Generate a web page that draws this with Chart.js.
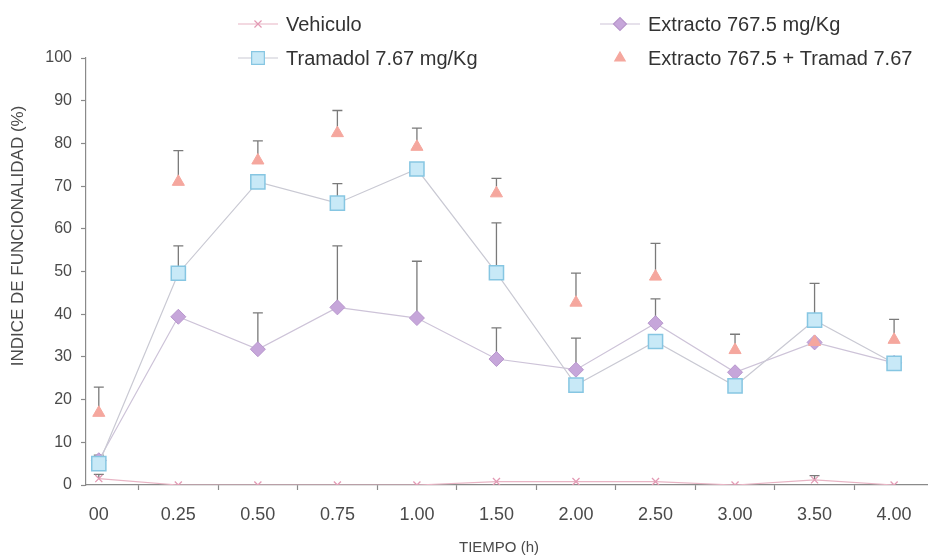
<!DOCTYPE html>
<html>
<head>
<meta charset="utf-8">
<script src="https://cdn.jsdelivr.net/npm/chart.js@4/dist/chart.umd.min.js"></script>
<style>
  html, body { margin: 0; padding: 0; background: #ffffff; }
  #wrap { width: 939px; height: 557px; position: relative; }
</style>
</head>
<body>
<div id="wrap"><canvas id="c"></canvas></div>
<script>
// Time points (h)
const categories = ['00', '0.25', '0.50', '0.75', '1.00', '1.50', '2.00', '2.50', '3.00', '3.50', '4.00'];

// Mean functionality index (%) per group
const vehiculo  = [1.5, 0, 0, 0, 0, 0.8, 0.8, 0.8, 0, 1.2, 0];
const tramadol  = [5, 49.6, 71, 66, 74, 49.7, 23.4, 33.6, 23.2, 38.6, 28.5];
const extracto  = [5.8, 39.4, 31.8, 41.6, 39.1, 29.5, 27, 37.9, 26.4, 33.4, 28.6];
const combinado = [16.9, 71, 76, 82.4, 79.2, 68.3, 42.7, 48.8, 31.6, 33.5, 34];

// Upper error (SEM) per group
const vehiculoErr  = [1, 0, 0, 0, 0, 0, 0, 0, 0, 1, 0];
const tramadolErr  = [2, 6.4, 0, 4.6, 0, 11.7, 0, 0, 0, 8.6, 0];
const extractoErr  = [0, 0, 8.5, 14.4, 13.3, 7.3, 7.4, 5.7, 0, 0, 0];
const combinadoErr = [6, 7.3, 4.6, 5.3, 4.4, 3.5, 6.9, 7.8, 3.7, 0, 4.8];

// Y axis ticks
const yTicks = [0, 10, 20, 30, 40, 50, 60, 70, 80, 90, 100];

const xs = categories.map((_, i) => i);
const pts = arr => arr.map((v, i) => ({ x: xs[i], y: v }));

const AXIS = '#8a8a8a';
const FONT = "'Liberation Sans', Arial, sans-serif";

// Upward error bars with caps
const errorBars = {
  id: 'errorBars',
  beforeDatasetsDraw(chart) {
    const { ctx } = chart;
    const y = chart.scales.y;
    ctx.save();
    ctx.strokeStyle = '#7a7a7a';
    ctx.lineWidth = 1.3;
    chart.data.datasets.forEach((ds, di) => {
      if (!ds.errUp) return;
      const meta = chart.getDatasetMeta(di);
      ds.errUp.forEach((e, i) => {
        if (!e) return;
        const px = meta.data[i].x;
        const y0 = y.getPixelForValue(ds.data[i].y);
        const y1 = y.getPixelForValue(ds.data[i].y + e);
        ctx.beginPath();
        ctx.moveTo(px, y0);
        ctx.lineTo(px, y1);
        ctx.moveTo(px - 5, y1);
        ctx.lineTo(px + 5, y1);
        ctx.stroke();
      });
    });
    ctx.restore();
  }
};

// Two-column legend (column-major order) and axis titles
const decorations = {
  id: 'decorations',
  afterDraw(chart) {
    const { ctx } = chart;
    const cols = [258, 620];
    const rows = [24, 58];
    ctx.save();
    chart.data.datasets.forEach((ds, i) => {
      const x = cols[Math.floor(i / 2)];
      const yy = rows[i % 2];
      if (ds.showLine !== false) {
        ctx.strokeStyle = ds.borderColor;
        ctx.lineWidth = 1.2;
        ctx.beginPath();
        ctx.moveTo(x - 20, yy);
        ctx.lineTo(x + 20, yy);
        ctx.stroke();
      }
      ctx.fillStyle = ds.pointBackgroundColor;
      ctx.strokeStyle = ds.pointBorderColor;
      Chart.helpers.drawPoint(ctx, {
        pointStyle: ds.pointStyle,
        radius: ds.legendRadius,
        rotation: 0,
        borderWidth: ds.pointBorderWidth
      }, x, yy);
      ctx.fillStyle = '#333333';
      ctx.font = '20px ' + FONT;
      ctx.textAlign = 'left';
      ctx.textBaseline = 'middle';
      ctx.fillText(ds.label, x + 28, yy + 1);
    });

    ctx.fillStyle = '#4a4a4a';
    ctx.font = '15px ' + FONT;
    ctx.textAlign = 'center';
    ctx.textBaseline = 'middle';
    ctx.fillText('TIEMPO (h)', 499, 548);

    ctx.save();
    ctx.translate(18, 236);
    ctx.rotate(-Math.PI / 2);
    ctx.font = '17px ' + FONT;
    ctx.fillText('INDICE DE FUNCIONALIDAD (%)', 0, 0);
    ctx.restore();
    ctx.restore();
  }
};

new Chart(document.getElementById('c'), {
  type: 'line',
  data: {
    datasets: [
      {
        label: 'Vehiculo',
        data: pts(vehiculo),
        errUp: vehiculoErr,
        borderColor: '#e8b4c4',
        borderWidth: 1.2,
        pointStyle: 'crossRot',
        pointRadius: 5,
        legendRadius: 5,
        pointBackgroundColor: '#e39ab4',
        pointBorderColor: '#e39ab4',
        pointBorderWidth: 1.3,
        order: 4
      },
      {
        label: 'Tramadol 7.67 mg/Kg',
        data: pts(tramadol),
        errUp: tramadolErr,
        borderColor: '#c9c9d3',
        borderWidth: 1.2,
        pointStyle: 'rect',
        pointRadius: 10,
        legendRadius: 9,
        pointBackgroundColor: '#c8e9f7',
        pointBorderColor: '#86c6e2',
        pointBorderWidth: 1.5,
        order: 2
      },
      {
        label: 'Extracto 767.5 mg/Kg',
        data: pts(extracto),
        errUp: extractoErr,
        borderColor: '#cdc3d8',
        borderWidth: 1.2,
        pointStyle: 'rectRot',
        pointRadius: 7.5,
        legendRadius: 6.5,
        pointBackgroundColor: '#c6a6da',
        pointBorderColor: '#b796cc',
        pointBorderWidth: 1,
        order: 3
      },
      {
        label: 'Extracto 767.5 + Tramad 7.67',
        data: pts(combinado),
        errUp: combinadoErr,
        showLine: false,
        borderColor: '#f3a59c',
        pointStyle: 'triangle',
        pointRadius: 7,
        legendRadius: 6,
        pointBackgroundColor: '#f5a79e',
        pointBorderColor: '#f5a79e',
        pointBorderWidth: 1,
        order: 1
      }
    ]
  },
  options: {
    responsive: true,
    maintainAspectRatio: false,
    animation: false,
    layout: { padding: { top: 58, left: 0, right: 0, bottom: 0 } },
    plugins: {
      legend: { display: false },
      tooltip: { enabled: false }
    },
    elements: { line: { tension: 0 } },
    scales: {
      x: {
        type: 'linear',
        min: -0.161,
        max: 10.42,
        afterFit: s => { s.height = 72; },
        afterBuildTicks: s => {
          const t = [];
          for (let i = 0; i < categories.length; i++) {
            t.push({ value: i });
            if (i < categories.length - 1) t.push({ value: i + 0.5 });
          }
          s.ticks = t;
        },
        border: { display: true, color: AXIS, width: 1.2 },
        grid: {
          drawOnChartArea: false,
          drawTicks: true,
          tickLength: 5,
          tickWidth: 1.2,
          tickColor: ctx => (ctx.tick && Number.isInteger(ctx.tick.value)) ? 'rgba(0,0,0,0)' : AXIS
        },
        ticks: {
          autoSkip: false,
          maxRotation: 0,
          minRotation: 0,
          padding: 14,
          color: '#4a4a4a',
          font: { family: FONT, size: 18 },
          callback: v => Number.isInteger(v) ? categories[v] : ''
        }
      },
      y: {
        min: 0,
        max: 100,
        afterFit: s => { s.width = 86; },
        afterBuildTicks: s => { s.ticks = yTicks.map(v => ({ value: v })); },
        border: { display: true, color: AXIS, width: 1.2 },
        grid: {
          drawOnChartArea: false,
          drawTicks: true,
          tickLength: 5,
          tickWidth: 1.2,
          tickColor: AXIS
        },
        ticks: {
          padding: 9,
          color: '#4a4a4a',
          font: { family: FONT, size: 16 }
        }
      }
    }
  },
  plugins: [errorBars, decorations]
});
</script>
</body>
</html>
